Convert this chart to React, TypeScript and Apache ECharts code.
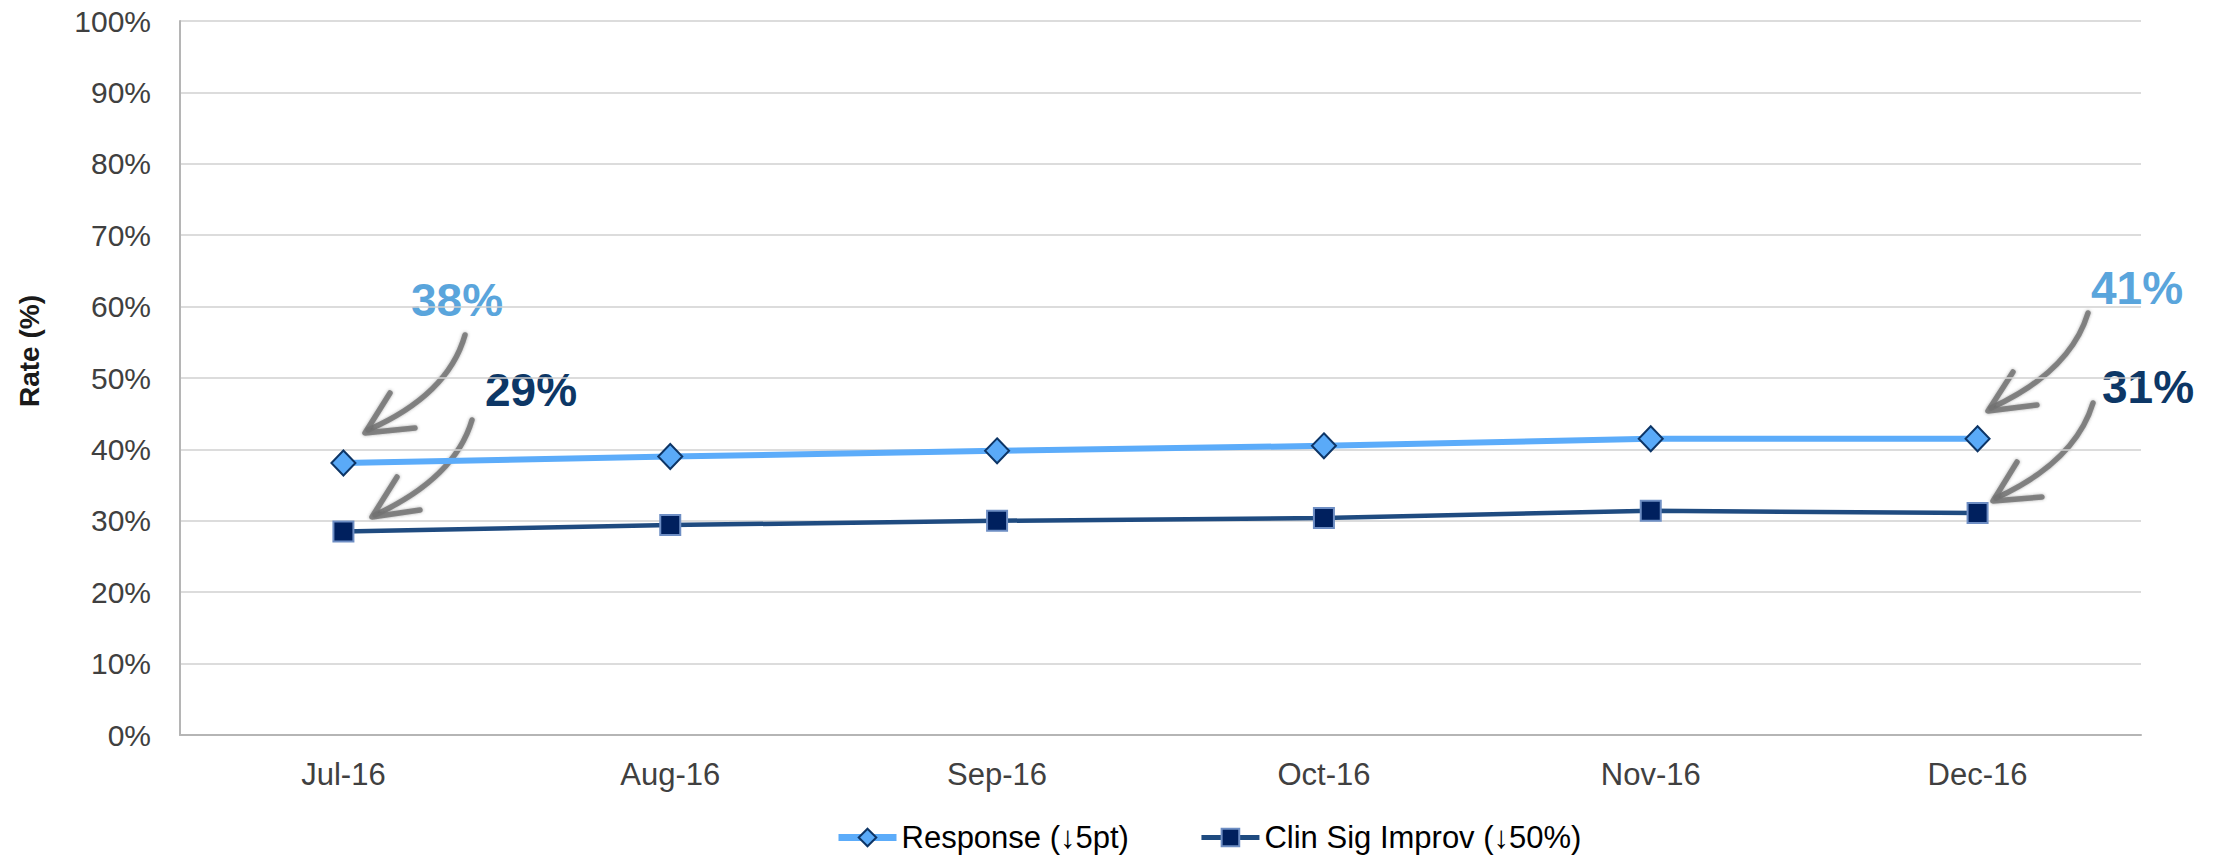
import React, { useEffect, useRef } from "react";
import * as echarts from "echarts";

const categories = ["Jul-16", "Aug-16", "Sep-16", "Oct-16", "Nov-16", "Dec-16"];
const responseValues = [38.1, 39.0, 39.8, 40.5, 41.5, 41.5];
const clinValues = [28.5, 29.4, 30.0, 30.4, 31.4, 31.1];
const seriesNames = ["Response (↓5pt)", "Clin Sig Improv (↓50%)"];
const yTicks = { min: 0, max: 100, interval: 10 };
const callouts = [
  { text: "38%", x: 457, y: 300, color: "#5AA5DC" },
  { text: "29%", x: 531, y: 390, color: "#0D3766" },
  { text: "41%", x: 2137, y: 288, color: "#5AA5DC" },
  { text: "31%", x: 2148, y: 387, color: "#0D3766" },
];
const arrows = [
  { s: [465, 335], c: [448, 395], e: [368, 430], w1: [390, 393], t: [365, 433], w2: [415, 428] },
  { s: [472, 420], c: [455, 478], e: [375, 515], w1: [397, 477], t: [372, 517], w2: [420, 510] },
  { s: [2088, 313], c: [2070, 372], e: [1991, 408], w1: [2013, 372], t: [1988, 411], w2: [2037, 405] },
  { s: [2093, 403], c: [2075, 462], e: [1996, 498], w1: [2017, 462], t: [1993, 501], w2: [2042, 497] },
];

const FONT = '"Liberation Sans", Arial, sans-serif';

export default function App() {
  const ref = useRef<HTMLDivElement>(null);
  useEffect(() => {
    if (!ref.current) return;
    const chart = echarts.init(ref.current, null, { renderer: "svg" });
    const arrowStyle = {
      stroke: "#747474",
      lineWidth: 5.5,
      lineCap: "round",
      lineJoin: "round",
      fill: null,
      opacity: 0.85,
      shadowBlur: 3,
      shadowColor: "rgba(60,60,60,0.5)",
    };
    const graphics: any[] = [];
    arrows.forEach((a) => {
      graphics.push({
        type: "bezierCurve",
        shape: { x1: a.s[0], y1: a.s[1], x2: a.e[0], y2: a.e[1], cpx1: a.c[0], cpy1: a.c[1] },
        style: arrowStyle,
      });
      graphics.push({
        type: "polyline",
        shape: { points: [a.w1, a.t, a.w2] },
        style: arrowStyle,
      });
    });
    callouts.forEach((c) => {
      graphics.push({
        type: "text",
        x: c.x,
        y: c.y,
        style: {
          text: c.text,
          fill: c.color,
          fontSize: 46,
          fontWeight: "bold",
          fontFamily: FONT,
          align: "center",
          verticalAlign: "middle",
        },
      });
    });
    graphics.push({
      type: "text",
      x: 29,
      y: 351,
      rotation: Math.PI / 2,
      style: {
        text: "Rate (%)",
        fill: "#1a1a1a",
        fontSize: 28,
        fontWeight: "bold",
        fontFamily: FONT,
        align: "center",
        verticalAlign: "middle",
      },
    });

    chart.setOption({
      animation: false,
      backgroundColor: "#ffffff",
      grid: { left: 180, right: 80, top: 21, bottom: 121, containLabel: false },
      legend: {
        data: [
          { name: seriesNames[0], lineStyle: { width: 7 } },
          { name: seriesNames[1], lineStyle: { width: 5 } },
        ],
        left: 835,
        top: 822,
        padding: 0,
        itemWidth: 58,
        itemHeight: 22,
        itemGap: 70,
        textStyle: { fontSize: 31, color: "#000000", fontFamily: FONT, padding: [0, 0, 0, 0] },
      },
      xAxis: {
        type: "category",
        data: categories,
        boundaryGap: true,
        axisLine: { show: true, lineStyle: { color: "#b5b5b5", width: 2 } },
        axisTick: { show: false },
        axisLabel: { fontSize: 31, color: "#404040", fontFamily: FONT, margin: 24 },
        splitLine: { show: false },
      },
      yAxis: {
        type: "value",
        min: yTicks.min,
        max: yTicks.max,
        interval: yTicks.interval,
        axisLine: { show: true, lineStyle: { color: "#b5b5b5", width: 2 } },
        axisTick: { show: false },
        axisLabel: {
          formatter: "{value}%",
          fontSize: 30,
          color: "#404040",
          fontFamily: FONT,
          margin: 29,
        },
        splitLine: { show: true, lineStyle: { color: "#d0d0d0", width: 1.5 } },
      },
      series: [
        {
          name: seriesNames[0],
          type: "line",
          data: responseValues,
          symbol: "diamond",
          symbolSize: [24, 25],
          lineStyle: { color: "#5cacfa", width: 6 },
          itemStyle: { color: "#5aaaf8", borderColor: "#0d3566", borderWidth: 2 },
          z: 3,
        },
        {
          name: seriesNames[1],
          type: "line",
          data: clinValues,
          symbol: "rect",
          symbolSize: 20,
          lineStyle: { color: "#1f4b80", width: 4.5 },
          itemStyle: { color: "#00205e", borderColor: "#6e8ec4", borderWidth: 2 },
          z: 2,
        },
      ],
      graphic: graphics,
    });
    return () => chart.dispose();
  }, []);
  return (
    <div
      ref={ref}
      style={{ position: "fixed", left: 0, top: 0, width: 2221, height: 856 }}
    />
  );
}
